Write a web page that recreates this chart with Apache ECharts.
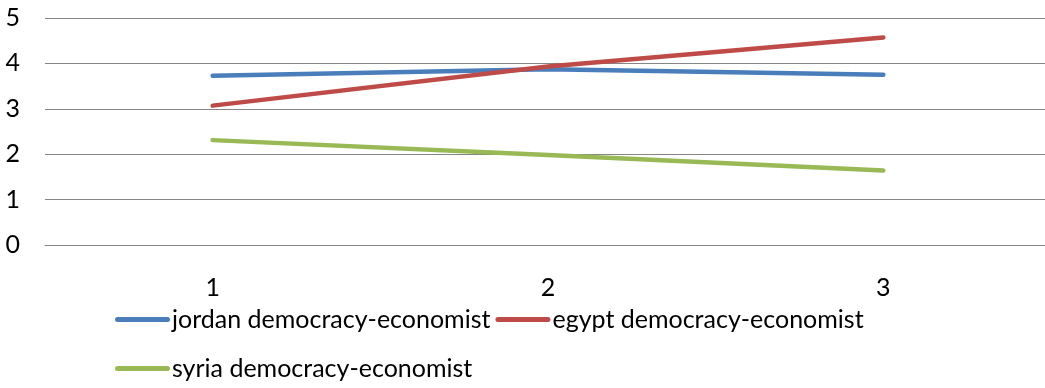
<!DOCTYPE html>
<html>
<head>
<meta charset="utf-8">
<script src="https://cdn.jsdelivr.net/npm/echarts@6/dist/echarts.min.js"></script>
<style>
  html, body { margin: 0; padding: 0; background: #fff; overflow: hidden; }
  #wrap { width: 1045px; height: 388px; overflow: hidden; }
  /* the plot runs slightly past the right edge, so the canvas is a bit wider than the page */
  #chart { width: 1060px; height: 388px; }
</style>
</head>
<body>
<div id="wrap"><div id="chart"></div></div>
<script>
// Survey rounds on the x axis
const categories = ['1', '2', '3'];

// Mean scores per country
const jordanValues = [3.73, 3.87, 3.75];
const egyptValues = [3.07, 3.93, 4.57];
const syriaValues = [2.31, 1.98, 1.64];

const seriesNames = [
  'jordan democracy-economist',
  'egypt democracy-economist',
  'syria democracy-economist'
];
const seriesColors = ['#4A7EBB', '#BE4B48', '#98B954'];

const FONT = 'Lato, "Open Sans", sans-serif';
const FONT_SIZE = 25;

const chart = echarts.init(document.getElementById('chart'), null, { renderer: 'canvas' });

function lineSeries(name, data, color) {
  return {
    name: name,
    type: 'line',
    data: data,
    symbol: 'none',
    smooth: false,
    lineStyle: { color: color, width: 4.5, cap: 'round', join: 'round' },
    itemStyle: { color: color },
    emphasis: { disabled: true }
  };
}

// legend key: a short thick bar with rounded ends
const KEY_ICON = 'path://M2.5,0 L52.5,0 A2.5,2.5 0 0 1 52.5,5 L2.5,5 A2.5,2.5 0 0 1 2.5,0 Z';

const legendCommon = {
  orient: 'horizontal',
  icon: KEY_ICON,
  itemWidth: 55,
  itemHeight: 5,
  itemGap: 5,
  padding: 0,
  selectedMode: false,
  textStyle: { fontFamily: FONT, fontSize: FONT_SIZE, color: '#000', padding: [0, 0, 0, -3] }
};

chart.setOption({
  animation: false,
  backgroundColor: '#fff',
  grid: { left: 45, width: 1006, top: 18, height: 227, containLabel: false },
  legend: [
    Object.assign({}, legendCommon, {
      left: 115, top: 307,
      data: [seriesNames[0], seriesNames[1]]
    }),
    Object.assign({}, legendCommon, {
      left: 115, top: 356,
      data: [seriesNames[2]]
    })
  ],
  xAxis: {
    type: 'category',
    data: categories,
    boundaryGap: true,
    axisLine: { show: true, lineStyle: { color: '#868686', width: 1 } },
    axisTick: { show: false },
    axisLabel: { fontFamily: FONT, fontSize: FONT_SIZE, color: '#000', margin: 30 },
    splitLine: { show: false }
  },
  yAxis: {
    type: 'value',
    min: 0,
    max: 5,
    interval: 1,
    axisLine: { show: false },
    axisTick: { show: false },
    axisLabel: { fontFamily: FONT, fontSize: FONT_SIZE, color: '#000', margin: 25 },
    splitLine: { show: true, lineStyle: { color: '#868686', width: 1 } }
  },
  series: [
    lineSeries(seriesNames[0], jordanValues, seriesColors[0]),
    lineSeries(seriesNames[1], egyptValues, seriesColors[1]),
    lineSeries(seriesNames[2], syriaValues, seriesColors[2])
  ]
});
</script>
</body>
</html>
